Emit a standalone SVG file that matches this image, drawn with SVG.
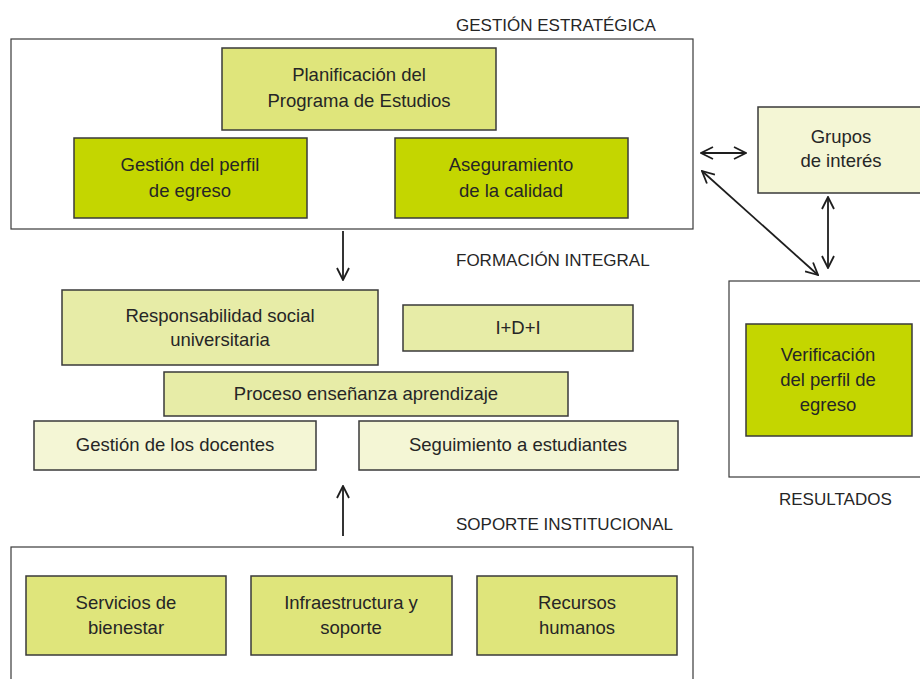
<svg xmlns="http://www.w3.org/2000/svg" width="920" height="679" viewBox="0 0 920 679">
<defs>
<style>
.c{fill:#fff;stroke:#3a3a3a;stroke-width:1.2}
.b{stroke:#3a3a3a;stroke-width:1.5}
.mid{fill:#dfe57b}
.dk{fill:#c4d600}
.lt{fill:#e7eca7}
.xl{fill:#f4f6d5}
text{font-family:"Liberation Sans",Arial,sans-serif;font-size:18.5px;fill:#262626;text-anchor:middle}
.h{font-size:17px;text-anchor:start}
.ln{stroke:#1e1e1e;stroke-width:1.8;fill:none}
</style>
<marker id="ah" viewBox="0 0 14 14" refX="13" refY="7" markerWidth="14" markerHeight="14" markerUnits="userSpaceOnUse" orient="auto-start-reverse">
<path d="M1,1 L13,7 L1,13" fill="none" stroke="#1e1e1e" stroke-width="1.8"/>
</marker>
</defs>
<rect width="920" height="679" fill="#fff"/>

<g id="gestion-estrategica">
<text class="h" x="456" y="31">GESTIÓN ESTRATÉGICA</text>
<rect class="c" x="11" y="39" width="682" height="190"/>
</g>
<g id="planificacion"><rect class="b mid" x="222" y="48" width="274" height="82"/><text x="359" y="81">Planificación del</text><text x="359" y="107">Programa de Estudios</text></g>
<g id="gestion-perfil"><rect class="b dk" x="74" y="138" width="233" height="80"/><text x="190" y="171">Gestión del perfil</text><text x="190" y="197">de egreso</text></g>
<g id="aseguramiento"><rect class="b dk" x="395" y="138" width="233" height="80"/><text x="511" y="171">Aseguramiento</text><text x="511" y="197">de la calidad</text></g>

<g id="formacion-integral"><text class="h" x="456" y="266">FORMACIÓN INTEGRAL</text></g>
<g id="responsabilidad"><rect class="b lt" x="62" y="290" width="316" height="75"/><text x="220" y="322">Responsabilidad social</text><text x="220" y="346">universitaria</text></g>
<g id="idi"><rect class="b lt" x="403" y="305" width="230" height="46"/><text x="518" y="334">I+D+I</text></g>
<g id="proceso"><rect class="b lt" x="164" y="372" width="404" height="44"/><text x="366" y="400">Proceso enseñanza aprendizaje</text></g>
<g id="docentes"><rect class="b xl" x="34" y="421" width="282" height="49"/><text x="175" y="451">Gestión de los docentes</text></g>
<g id="seguimiento"><rect class="b xl" x="359" y="421" width="319" height="49"/><text x="518" y="451">Seguimiento a estudiantes</text></g>

<g id="soporte-institucional">
<text class="h" x="456" y="530">SOPORTE INSTITUCIONAL</text>
<rect class="c" x="11" y="547" width="682" height="140"/>
</g>
<g id="servicios"><rect class="b mid" x="26" y="576" width="200" height="79"/><text x="126" y="609">Servicios de</text><text x="126" y="634">bienestar</text></g>
<g id="infraestructura"><rect class="b mid" x="251" y="576" width="201" height="79"/><text x="351" y="609">Infraestructura y</text><text x="351" y="634">soporte</text></g>
<g id="recursos"><rect class="b mid" x="477" y="576" width="200" height="79"/><text x="577" y="609">Recursos</text><text x="577" y="634">humanos</text></g>

<g id="grupos"><rect class="b xl" x="758" y="107" width="170" height="86"/><text x="841" y="143">Grupos</text><text x="841" y="167">de interés</text></g>
<g id="resultados">
<rect class="c" x="729" y="281" width="200" height="196"/>
<text class="h" x="779" y="505">RESULTADOS</text>
</g>
<g id="verificacion"><rect class="b dk" x="746" y="324" width="166" height="112"/><text x="828" y="361">Verificación</text><text x="828" y="386">del perfil de</text><text x="828" y="411">egreso</text></g>

<g id="connectors">
<line class="ln" x1="343" y1="231" x2="343" y2="280" marker-end="url(#ah)"/>
<line class="ln" x1="343" y1="536" x2="343" y2="486" marker-end="url(#ah)"/>
<line class="ln" x1="701" y1="153" x2="746" y2="153" marker-start="url(#ah)" marker-end="url(#ah)"/>
<line class="ln" x1="702" y1="171" x2="818" y2="275" marker-start="url(#ah)" marker-end="url(#ah)"/>
<line class="ln" x1="828" y1="197" x2="828" y2="268" marker-start="url(#ah)" marker-end="url(#ah)"/>
</g>
</svg>
